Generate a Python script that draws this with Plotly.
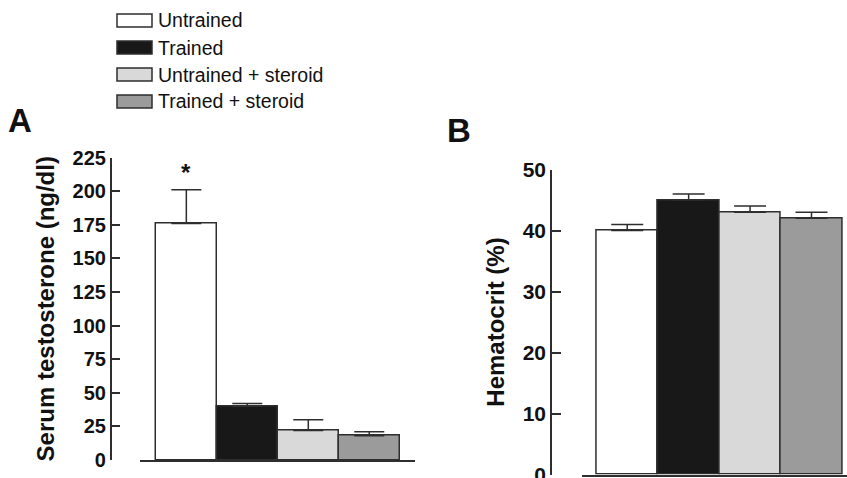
import plotly.graph_objects as go

W, H = 847, 478

groups = ["Untrained", "Trained", "Untrained + steroid", "Trained + steroid"]
testosterone = [176, 40, 22, 18]
testosterone_sem = [25, 2, 8, 3]
hematocrit = [40, 45, 43, 42]
hematocrit_sem = [1, 1, 1, 1]
a_ticks = [0, 25, 50, 75, 100, 125, 150, 175, 200, 225]
b_ticks = [0, 10, 20, 30, 40, 50]

fills = ["#ffffff", "#181818", "#d9d9d9", "#9b9b9b"]
edge = "#2e2e2e"
FONT = "Arial, Liberation Sans, Helvetica, sans-serif"


def px(x):
    return x / W


def py(y):
    return 1 - y / H


fig = go.Figure()

fig.add_trace(go.Bar(
    x=groups, y=testosterone, width=1,
    marker=dict(color=fills, line=dict(color=edge, width=1.5)),
    error_y=dict(type="data", symmetric=False, array=testosterone_sem,
                 arrayminus=[0] * len(groups), color=edge, thickness=1.5, width=15),
    xaxis="x", yaxis="y", showlegend=False, hoverinfo="x+y",
))
fig.add_trace(go.Bar(
    x=groups, y=hematocrit, width=1,
    marker=dict(color=fills, line=dict(color=edge, width=1.5)),
    error_y=dict(type="data", symmetric=False, array=hematocrit_sem,
                 arrayminus=[0] * len(groups), color=edge, thickness=1.5, width=16),
    xaxis="x2", yaxis="y2", showlegend=False, hoverinfo="x+y",
))

axis_common = dict(showgrid=False, zeroline=False, showline=True, automargin=False,
                   linecolor=edge, linewidth=1.5)

fig.update_layout(
    template="none",
    width=W, height=H,
    margin=dict(l=0, r=0, t=0, b=0, pad=0, autoexpand=False),
    paper_bgcolor="white", plot_bgcolor="white",
    bargap=0,
    font=dict(family=FONT, color="#111111"),
    xaxis=dict(domain=[px(140), px(415)], range=[-0.76, 3.75], type="category",
               anchor="y", showticklabels=False, ticks="", **axis_common),
    yaxis=dict(domain=[py(460), py(157.5)], range=[0, 225], anchor="free",
               position=px(110.7), ticks="inside", ticklen=9, tickwidth=1.5,
               tickcolor=edge, tickvals=a_ticks, ticklabelstandoff=0,
               ticklabeloverflow="allow",
               tickfont=dict(size=20, weight="bold", color="#111111"),
               title=dict(text="Serum testosterone (ng/dl)", standoff=10,
                          font=dict(size=24, weight="bold", color="#111111")),
               **axis_common),
    xaxis2=dict(domain=[px(581.7), 1], range=[-0.741, 3.578], type="category",
                anchor="y2", showticklabels=False, ticks="", **axis_common),
    yaxis2=dict(domain=[py(474.5), py(169.5)], range=[0, 50], anchor="free",
                position=px(551), ticks="inside", ticklen=9, tickwidth=1.5,
                tickcolor=edge, tickvals=b_ticks, ticklabelstandoff=0,
                ticklabeloverflow="allow",
                tickfont=dict(size=21, weight="bold", color="#111111"),
                title=dict(text="Hematocrit (%)", standoff=10,
                           font=dict(size=24, weight="bold", color="#111111")),
                **axis_common),
)

annotations = [
    dict(x=groups[0], y=testosterone[0] + testosterone_sem[0], xref="x", yref="y",
         text="*", showarrow=False, yanchor="bottom", yshift=2,
         font=dict(size=24, weight="bold", color="#111111")),
    dict(x=px(6), y=py(121), xref="paper", yref="paper", text="A",
         showarrow=False, xanchor="left", yanchor="middle",
         font=dict(size=33, weight="bold", color="#111111")),
    dict(x=px(445), y=py(131), xref="paper", yref="paper", text="B",
         showarrow=False, xanchor="left", yanchor="middle",
         font=dict(size=33, weight="bold", color="#111111")),
]

shapes = []
for i, g in enumerate(groups):
    cy = 20.5 + 27 * i
    shapes.append(dict(type="rect", xref="paper", yref="paper",
                       x0=px(117), x1=px(152), y0=py(cy + 6.5), y1=py(cy - 6.5),
                       fillcolor=fills[i], line=dict(color=edge, width=1.5)))
    annotations.append(dict(x=px(156), y=py(cy), xref="paper", yref="paper",
                            text=g, showarrow=False, xanchor="left", yanchor="middle",
                            font=dict(size=19.5, color="#111111")))

fig.update_layout(annotations=annotations, shapes=shapes)

fig.write_html(
    "out.html",
    config={"displayModeBar": False},
    post_script="document.body.style.margin='0';document.body.style.overflow='hidden';",
)
